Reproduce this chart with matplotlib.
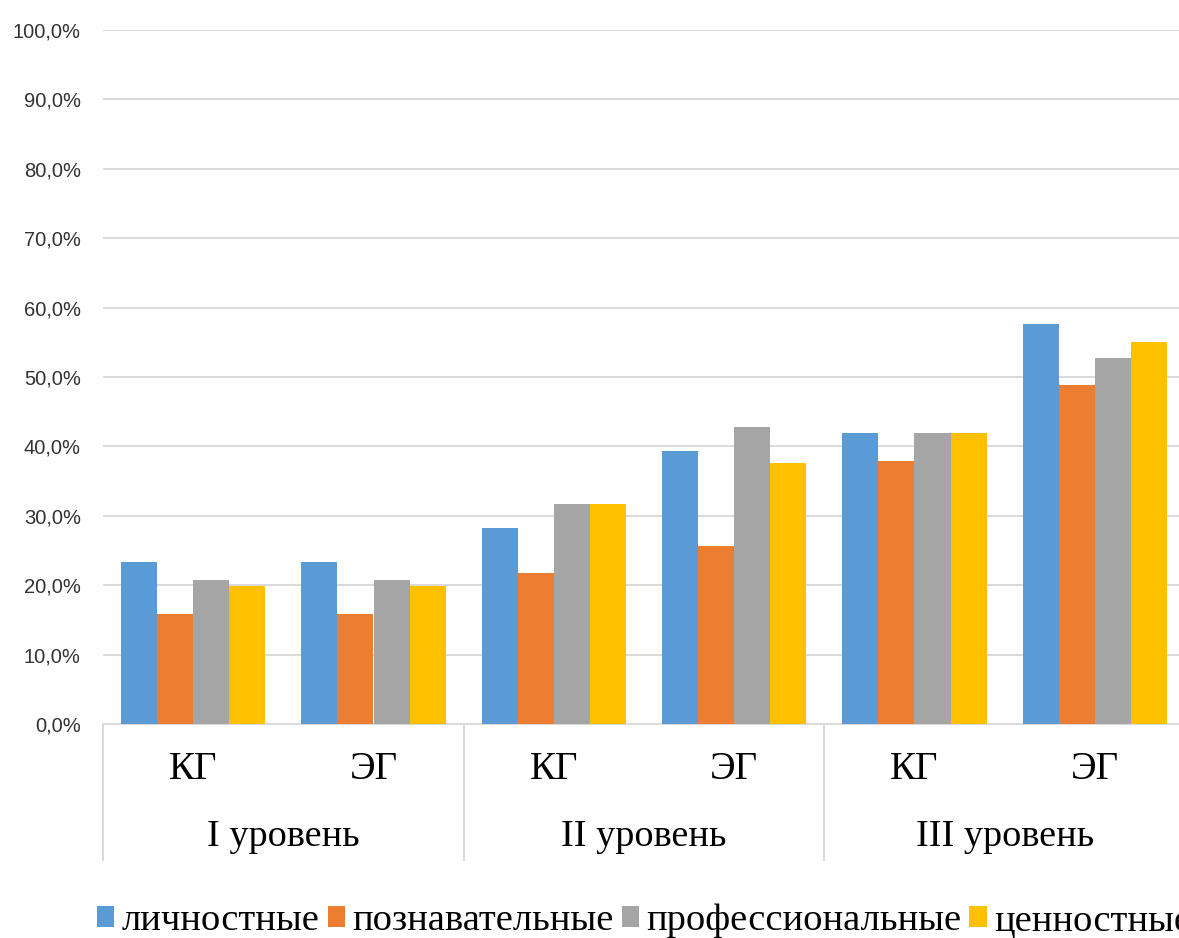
import numpy as np
import matplotlib
matplotlib.use("Agg")
import matplotlib.pyplot as plt
import matplotlib.transforms as mtransforms
from matplotlib.patches import Patch

groups = ["КГ", "ЭГ", "КГ", "ЭГ", "КГ", "ЭГ"]
levels = ["I уровень", "II уровень", "III уровень"]
series = ["личностные", "познавательные", "профессиональные", "ценностные"]
lichnostnye = [23.4, 23.4, 28.3, 39.3, 42.0, 57.7]
poznavatelnye = [15.8, 15.8, 21.7, 25.7, 37.9, 48.8]
professionalnye = [20.8, 20.8, 31.7, 42.8, 42.0, 52.7]
cennostnye = [19.9, 19.9, 31.7, 37.6, 42.0, 55.0]
colors = ["#5B9BD5", "#ED7D31", "#A5A5A5", "#FFC000"]

values = [lichnostnye, poznavatelnye, professionalnye, cennostnye]
serif = "Liberation Serif"
grid_c = "#D9D9D9"

fig = plt.figure(figsize=(11.79, 9.38), dpi=100)
ax = fig.add_axes([103/1179, 214/938, 1082/1179, 694/938])

x = np.arange(len(groups))
w = 0.2
for i, (vals, c) in enumerate(zip(values, colors)):
    ax.bar(x + (i - 1.5) * w, vals, width=w, color=c, zorder=3)

ax.set_xlim(-0.5, len(groups) - 0.5)
ax.set_ylim(0, 100)
ax.set_yticks(np.arange(0, 101, 10))
ax.set_yticklabels([f"{v:.1f}%".replace(".", ",") for v in np.arange(0, 101, 10)],
                   fontfamily="Liberation Sans", fontsize=14.5, color="#333333")
ax.tick_params(axis="y", length=0, pad=16)
ax.set_xticks([])
ax.grid(axis="y", color=grid_c, linewidth=1.4, zorder=0)
for s in ["left", "right", "top"]:
    ax.spines[s].set_visible(False)
ax.spines["bottom"].set_color(grid_c)
ax.spines["bottom"].set_linewidth(1.4)

# two-level category axis
trans = mtransforms.blended_transform_factory(ax.transData, ax.transAxes)
for xs in [-0.5, 1.5, 3.5, 5.5]:
    ax.plot([xs, xs], [0, -0.196], transform=trans, color=grid_c,
            linewidth=1.4, clip_on=False)
for i, g in enumerate(groups):
    ax.text(i, -0.066, g, transform=trans, ha="center", va="center",
            fontfamily=serif, fontsize=28)
for j, lv in enumerate(levels):
    ax.text(2 * j + 0.5, -0.163, lv, transform=trans, ha="center", va="center",
            fontfamily=serif, fontsize=27.5)

handles = [Patch(facecolor=c, edgecolor="none") for c in colors]
fig.legend(handles, series, loc="center left", bbox_to_anchor=(97/1179, 1 - 921/938),
           ncol=4, frameon=False, prop={"family": serif, "size": 27.7},
           handlelength=0.45, handleheight=0.45, handletextpad=0.2,
           columnspacing=0.2, borderpad=0, borderaxespad=0)

fig.savefig("out.png", dpi=100)
